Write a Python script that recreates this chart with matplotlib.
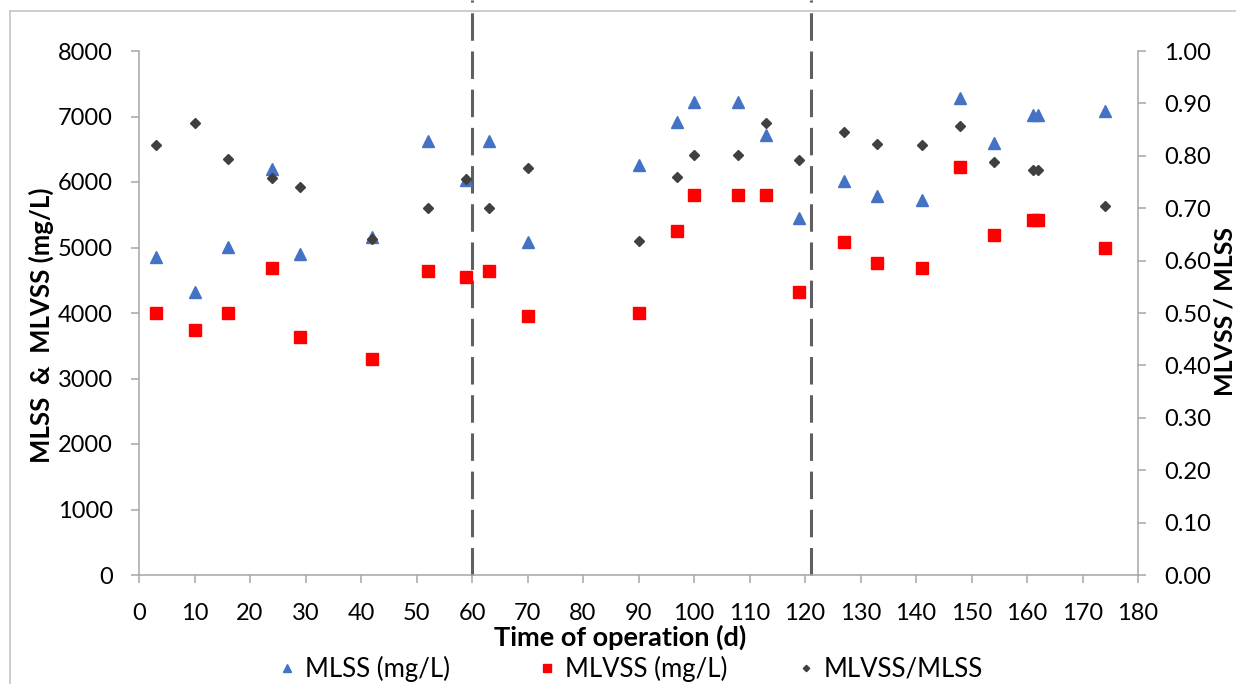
import matplotlib
matplotlib.use('Agg')
import matplotlib.pyplot as plt
from matplotlib.lines import Line2D

plt.rcParams['font.family'] = ['Lato', 'DejaVu Sans']

# sampling days and measurements
days = [3, 10, 16, 24, 29, 42, 52, 59, 63, 70, 90, 97, 100, 108, 113, 119,
        127, 133, 141, 148, 154, 161, 162, 174]
mlss = [4860, 4325, 5012, 6194, 4905, 5156, 6631, 6031, 6631, 5089, 6260, 6921,
        7221, 7221, 6722, 5455, 6020, 5786, 5725, 7277, 6590, 7018, 7018, 7089]
mlvss = [4000, 3740, 4000, 4687, 3629, 3293, 4641, 4555, 4641, 3960, 4000, 5257,
         5797, 5797, 5797, 4326, 5089, 4769, 4687, 6234, 5196, 5420, 5420, 4992]
ratio = [0.821, 0.862, 0.794, 0.758, 0.740, 0.641, 0.700, 0.755, 0.700, 0.777,
         0.637, 0.760, 0.802, 0.802, 0.862, 0.792, 0.846, 0.823, 0.820, 0.857,
         0.788, 0.772, 0.772, 0.704]
phase_breaks = [60, 121]

W, H = 1236, 684
fig = plt.figure(figsize=(W / 100, H / 100), dpi=100)
ax = fig.add_axes([139 / W, 1 - 575 / H, (1138 - 139) / W, (575 - 51) / H])
ax2 = ax.twinx()

spine_col = '#A6A6A6'
tick_fs = 17
label_fs = 19.5

ax.plot(days, mlss, linestyle='none', marker='^', ms=8.2, color='#4472C4',
        label='MLSS (mg/L)', zorder=3)
ax.plot(days, mlvss, linestyle='none', marker='s', ms=8.4, color='#FF0000',
        label='MLVSS (mg/L)', zorder=3)
ax2.plot(days, ratio, linestyle='none', marker='D', ms=4.6, color='#404040',
         label='MLVSS/MLSS', zorder=3)

# phase separators
for xb in phase_breaks:
    ax.plot([xb, xb], [0, 8780], color='#606060', lw=2.2, dashes=(9, 3.5),
            clip_on=False, zorder=2)

ax.set_xlim(0, 180)
ax.set_ylim(0, 8000)
ax2.set_ylim(0, 1.0)
ax.set_xticks(range(0, 181, 10))
ax.set_yticks(range(0, 8001, 1000))
ax2.set_yticks([i / 10 for i in range(11)])
ax2.set_yticklabels(['%.2f' % (i / 10) for i in range(11)])

for a in (ax, ax2):
    for s in a.spines.values():
        s.set_color(spine_col)
        s.set_linewidth(1.1)
    a.spines['top'].set_visible(False)
ax.spines['right'].set_visible(False)
ax2.spines['left'].set_visible(False)
ax2.spines['bottom'].set_visible(False)

ax.tick_params(axis='both', direction='out', length=6, width=1.1, color=spine_col,
               labelsize=tick_fs, pad=13)
ax.tick_params(axis='x', pad=14)
ax2.tick_params(axis='y', direction='out', length=6, width=1.1, color=spine_col,
                labelsize=tick_fs, pad=13)

fig.text(620 / W, 1 - 637 / H, 'Time of operation (d)', ha='center', va='center',
         fontsize=label_fs, fontweight='bold')
fig.text(41 / W, 1 - 325 / H, 'MLSS  &  MLVSS (mg/L)', ha='center', va='center',
         rotation=90, fontsize=label_fs - 1, fontweight='bold')
fig.text(1225 / W, 1 - 312 / H, 'MLVSS / MLSS', ha='center', va='center',
         rotation=90, fontsize=label_fs - 1.5, fontweight='bold')

# legend entries laid out one by one along the bottom
h1, l1 = ax.get_legend_handles_labels()
h2, l2 = ax2.get_legend_handles_labels()
legend_x = [279, 539, 798]
for h, l, lx in zip(h1 + h2, l1 + l2, legend_x):
    leg = fig.legend([h], [l], loc='center left', frameon=False,
                     bbox_to_anchor=(lx / W, 1 - 669 / H), fontsize=18.5,
                     markerscale=0.7, handlelength=0.6, handletextpad=0.4,
                     borderpad=0, borderaxespad=0)

# chart frame
fig.add_artist(Line2D([9.5 / W, 9.5 / W], [0, 1 - 11 / H], color='#BFBFBF', lw=1.1))
fig.add_artist(Line2D([9.5 / W, 1], [1 - 11 / H, 1 - 11 / H], color='#BFBFBF', lw=1.1))

fig.savefig('out.png', dpi=100)
